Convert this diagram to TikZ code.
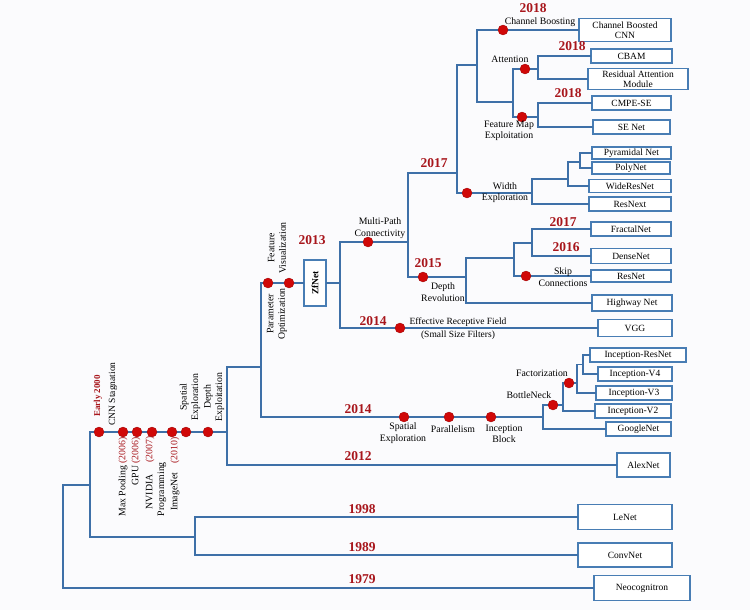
\documentclass[tikz,border=0pt]{standalone}
\usepackage{fontspec}
\setmainfont{Liberation Serif}
\definecolor{lineblue}{RGB}{62,112,168}
\definecolor{boxblue}{RGB}{72,125,180}
\definecolor{dotred}{RGB}{208,8,8}
\definecolor{yearred}{RGB}{168,22,28}
\definecolor{bg}{RGB}{251,251,253}
\begin{document}
\begin{tikzpicture}[x=1pt,y=-1pt,
  ln/.style={draw=lineblue, line width=1.8pt, line cap=rect},
  box/.style={draw=boxblue, line width=1.3pt, fill=white, inner sep=0pt, align=center, font=\fontsize{9.5}{10}\selectfont},
  rdot/.style={circle, fill=dotred, draw=dotred!75!black, line width=0.3pt, minimum size=10pt, inner sep=0pt},
  yr/.style={text=yearred, font=\bfseries\fontsize{13.5}{14}\selectfont, inner sep=0pt},
  lbl/.style={font=\fontsize{9.8}{11.5}\selectfont, align=center, inner sep=0pt},
  vlbl/.style={lbl, rotate=90},
  ]
\fill[bg] (0,0) rectangle (750,610);
\useasboundingbox (0,0) rectangle (750,610);

% ---------- boxes ----------
\node[box, minimum width=92pt, minimum height=23pt] (cbcnn) at (625,30) {Channel Boosted\\CNN};
\node[box, minimum width=81pt, minimum height=14pt] (cbam) at (631.5,56) {CBAM};
\node[box, minimum width=100pt, minimum height=21pt] (resatt) at (638,79) {Residual Attention\\Module};
\node[box, minimum width=79pt, minimum height=14pt] (cmpe) at (631.5,103) {CMPE-SE};
\node[box, minimum width=77pt, minimum height=14pt] (senet) at (631.5,127) {SE Net};
\node[box, minimum width=79pt, minimum height=12pt] (pyr) at (631.5,153) {Pyramidal Net};
\node[box, minimum width=78pt, minimum height=12pt] (poly) at (631,168) {PolyNet};
\node[box, minimum width=82pt, minimum height=13pt] (wide) at (630,186) {WideResNet};
\node[box, minimum width=82pt, minimum height=14pt] (resnext) at (630,204) {ResNext};
\node[box, minimum width=80pt, minimum height=14pt] (fractal) at (631,229) {FractalNet};
\node[box, minimum width=80pt, minimum height=15pt] (dense) at (631,256) {DenseNet};
\node[box, minimum width=80pt, minimum height=12pt] (resnet) at (631,276) {ResNet};
\node[box, minimum width=80pt, minimum height=16pt] (highway) at (632,303) {Highway Net};
\node[box, minimum width=74pt, minimum height=17pt] (vgg) at (635,328) {VGG};
\node[box, minimum width=96pt, minimum height=14pt] (incres) at (638,355) {Inception-ResNet};
\node[box, minimum width=74pt, minimum height=14pt] (incv4) at (635,374) {Inception-V4};
\node[box, minimum width=76pt, minimum height=14pt] (incv3) at (634,393) {Inception-V3};
\node[box, minimum width=76pt, minimum height=14pt] (incv2) at (633,411) {Inception-V2};
\node[box, minimum width=65pt, minimum height=14pt] (google) at (638.5,429) {GoogleNet};
\node[box, minimum width=53pt, minimum height=24pt] (alex) at (643.5,465) {AlexNet};
\node[box, minimum width=94pt, minimum height=25pt] (lenet) at (625,517) {LeNet};
\node[box, minimum width=94pt, minimum height=24pt] (convnet) at (625,555) {ConvNet};
\node[box, minimum width=96pt, minimum height=25pt] (neo) at (642,588) {Neocognitron};
\node[box, minimum width=22pt, minimum height=46pt] (zf) at (315,283) {\rotatebox{90}{\bfseries ZfNet}};

% ---------- junction coordinates ----------
\coordinate (r1) at (63,485);  \coordinate (r2) at (63,588);
\coordinate (a1) at (90,485);  \coordinate (t0) at (90,432);  \coordinate (a2) at (90,537);
\coordinate (b0) at (195,537); \coordinate (b1) at (195,517); \coordinate (b2) at (195,555);
\coordinate (t1) at (227,432);
\coordinate (c1) at (227,367); \coordinate (c2) at (227,465);
\coordinate (d0) at (261,367); \coordinate (d1) at (261,283); \coordinate (d2) at (261,417);
\coordinate (e0) at (340,283); \coordinate (e1) at (340,242); \coordinate (e2) at (340,328);
\coordinate (f1) at (408,242); \coordinate (f2) at (408,173); \coordinate (f3) at (408,277);
\coordinate (g1) at (457,173); \coordinate (g2) at (457,65);  \coordinate (g3) at (457,193);
\coordinate (h1) at (477,65);  \coordinate (h2) at (477,30);  \coordinate (h3) at (477,102);
\coordinate (i1) at (513,102); \coordinate (i2) at (513,69);  \coordinate (i3) at (513,117);
\coordinate (j0) at (538,69);  \coordinate (j1) at (538,56);  \coordinate (j2) at (538,79);
\coordinate (k0) at (538,117); \coordinate (k1) at (538,103); \coordinate (k2) at (538,127);
% width
\coordinate (w0) at (532,193); \coordinate (w1) at (532,179); \coordinate (w2) at (532,204);
\coordinate (w3) at (568,179); \coordinate (w4) at (568,162); \coordinate (w5) at (568,186);
\coordinate (w6) at (580,162); \coordinate (w7) at (580,153); \coordinate (w8) at (580,168);
% depth
\coordinate (p0) at (466,277); \coordinate (p1) at (466,258); \coordinate (p2) at (466,303);
\coordinate (p3) at (514,258); \coordinate (p4) at (514,243); \coordinate (p5) at (514,276);
\coordinate (p6) at (532,243); \coordinate (p7) at (532,229); \coordinate (p8) at (532,256);
% inception
\coordinate (n0) at (543,417); \coordinate (n1) at (543,405); \coordinate (n2) at (543,429);
\coordinate (n3) at (563,405); \coordinate (n4) at (563,383); \coordinate (n5) at (563,411);
\coordinate (n6) at (577,383); \coordinate (n7) at (577,364.5); \coordinate (n8) at (577,393);
\coordinate (n9) at (583,364.5); \coordinate (n10) at (583,355); \coordinate (n11) at (583,374);

% ---------- connectors ----------
\draw[ln] (r1) -- (r2) -- (neo.west);
\draw[ln] (r1) -- (a1);
\draw[ln] (t0) -- (a2) -- (b0);
\draw[ln] (b1) -- (b2);
\draw[ln] (b1) -- (lenet.west);
\draw[ln] (b2) -- (convnet.west);
\draw[ln] (t0) -- (t1);
\draw[ln] (c1) -- (c2) -- (alex.west);
\draw[ln] (c1) -- (d0);
\draw[ln] (d1) -- (d2);
\draw[ln] (d1) -- (zf.west);
\draw[ln] (zf.east) -- (e0);
\draw[ln] (e1) -- (e2) -- (vgg.west);
\draw[ln] (e1) -- (f1);
\draw[ln] (f2) -- (f3);
\draw[ln] (f2) -- (g1);
\draw[ln] (g2) -- (g3);
\draw[ln] (g2) -- (h1);
\draw[ln] (h2) -- (h3);
\draw[ln] (h2) -- (cbcnn.west);
\draw[ln] (h3) -- (i1);
\draw[ln] (i2) -- (i3);
\draw[ln] (i2) -- (j0);
\draw[ln] (j1) -- (j2);
\draw[ln] (j1) -- (cbam.west);
\draw[ln] (j2) -- (resatt.west);
\draw[ln] (i3) -- (k0);
\draw[ln] (k1) -- (k2);
\draw[ln] (k1) -- (cmpe.west);
\draw[ln] (k2) -- (senet.west);
% width
\draw[ln] (g3) -- (w0);
\draw[ln] (w1) -- (w2);
\draw[ln] (w1) -- (w3);
\draw[ln] (w4) -- (w5);
\draw[ln] (w4) -- (w6);
\draw[ln] (w7) -- (w8);
\draw[ln] (w7) -- (pyr.west);
\draw[ln] (w8) -- (poly.west);
\draw[ln] (w5) -- (wide.west);
\draw[ln] (w2) -- (resnext.west);
% depth
\draw[ln] (f3) -- (p0);
\draw[ln] (p1) -- (p2);
\draw[ln] (p1) -- (p3);
\draw[ln] (p4) -- (p5);
\draw[ln] (p4) -- (p6);
\draw[ln] (p7) -- (p8);
\draw[ln] (p7) -- (fractal.west);
\draw[ln] (p8) -- (dense.west);
\draw[ln] (p5) -- (resnet.west);
\draw[ln] (p2) -- (highway.west);
% inception
\draw[ln] (d2) -- (n0);
\draw[ln] (n1) -- (n2);
\draw[ln] (n1) -- (n3);
\draw[ln] (n4) -- (n5);
\draw[ln] (n4) -- (n6);
\draw[ln] (n7) -- (n8);
\draw[ln] (n7) -- (n9);
\draw[ln] (n10) -- (n11);
\draw[ln] (n10) -- (incres.west);
\draw[ln] (n11) -- (incv4.west);
\draw[ln] (n8) -- (incv3.west);
\draw[ln] (n5) -- (incv2.west);
\draw[ln] (n2) -- (google.west);

% ---------- dots ----------
\node[rdot] (dt1) at (99,432) {};
\node[rdot] (dt2) at (123,432) {};
\node[rdot] (dt3) at (137,432) {};
\node[rdot] (dt4) at (152,432) {};
\node[rdot] (dt5) at (172,432) {};
\node[rdot] (dt6) at (186,432) {};
\node[rdot] (dt7) at (208,432) {};
\node[rdot] (dpo) at (268,283) {};
\node[rdot] (dfv) at (289,283) {};
\node[rdot] (dmp) at (368,242) {};
\node[rdot] (ddr) at (423,277) {};
\node[rdot] (derf) at (400,328) {};
\node[rdot] (dcb) at (503,30) {};
\node[rdot] (dat) at (525,69) {};
\node[rdot] (dfm) at (522,117) {};
\node[rdot] (dwe) at (467,193) {};
\node[rdot] (dsc) at (526,276) {};
\node[rdot] (dse) at (404,417) {};
\node[rdot] (dpa) at (449,417) {};
\node[rdot] (dib) at (491,417) {};
\node[rdot] (dbn) at (553,405) {};
\node[rdot] (dfa) at (569,383) {};

% ---------- year labels ----------
\node[yr] (y1) at (533,8) {2018};
\node[yr] (y2) at (572,46) {2018};
\node[yr] (y3) at (568,93) {2018};
\node[yr] (y4) at (434,163) {2017};
\node[yr] (y5) at (563,222) {2017};
\node[yr] (y6) at (566,247) {2016};
\node[yr] (y7) at (428,263) {2015};
\node[yr] (y8) at (312,240) {2013};
\node[yr] (y9) at (373,321) {2014};
\node[yr] (y10) at (358,409) {2014};
\node[yr] (y11) at (358,456) {2012};
\node[yr] (y12) at (362,509) {1998};
\node[yr] (y13) at (362,547) {1989};
\node[yr] (y14) at (362,579) {1979};

% ---------- text labels ----------
\node[lbl] (lcb) at (540,22) {Channel Boosting};
\node[lbl] (lat) at (510,59) {Attention};
\node[lbl] (lfm) at (509,131) {Feature Map\\Exploitation};
\node[lbl] (lwe) at (505,192.5) {Width\\Exploration};
\node[lbl] (lsc) at (563,277) {Skip\\Connections};
\node[lbl] (ldr) at (443,292) {Depth\\Revolution};
\node[lbl] (lmp) at (380,228) {Multi-Path\\Connectivity};
\node[lbl, font=\fontsize{9.5}{12.5}\selectfont] (lerf) at (458,328.5) {Effective Receptive Field\\(Small Size Filters)};
\node[lbl] (lse) at (403,433) {Spatial\\Exploration};
\node[lbl] (lpa) at (453,429) {Parallelism};
\node[lbl] (lib) at (504,434) {Inception\\Block};
\node[lbl] (lbn) at (529,395) {BottleNeck};
\node[lbl] (lfa) at (542,373) {Factorization};
\node[vlbl] (lfv) at (277,248) {Feature\\Visualization};
\node[vlbl] (lpo) at (277,314) {Parameter\\Optimization};
\node[vlbl] (lsx) at (190,397) {Spatial\\Exploration};
\node[vlbl] (ldx) at (214,397) {Depth\\Exploitation};
\node[vlbl, text=yearred, font=\bfseries\fontsize{9}{10}\selectfont] (lea) at (98,396) {Early 2000};
\node[vlbl, font=\fontsize{9.5}{10}\selectfont] (lcs) at (113,394) {CNN Stagnation};
\node[vlbl, anchor=east] (lmx) at (123,437) {Max Pooling \textcolor{yearred}{(2006)}};
\node[vlbl, anchor=east] (lgp) at (136,437) {GPU \textcolor{yearred}{(2006)}};
\node[vlbl, anchor=east] (lnv) at (150,436) {NVIDIA\hspace{12pt}\textcolor{yearred}{(2007)}};
\node[vlbl, anchor=east] (lpr) at (162,462) {Programming};
\node[vlbl, anchor=east] (lim) at (175,437) {ImageNet\hspace{9pt}\textcolor{yearred}{(2010)}};
\end{tikzpicture}
\end{document}
